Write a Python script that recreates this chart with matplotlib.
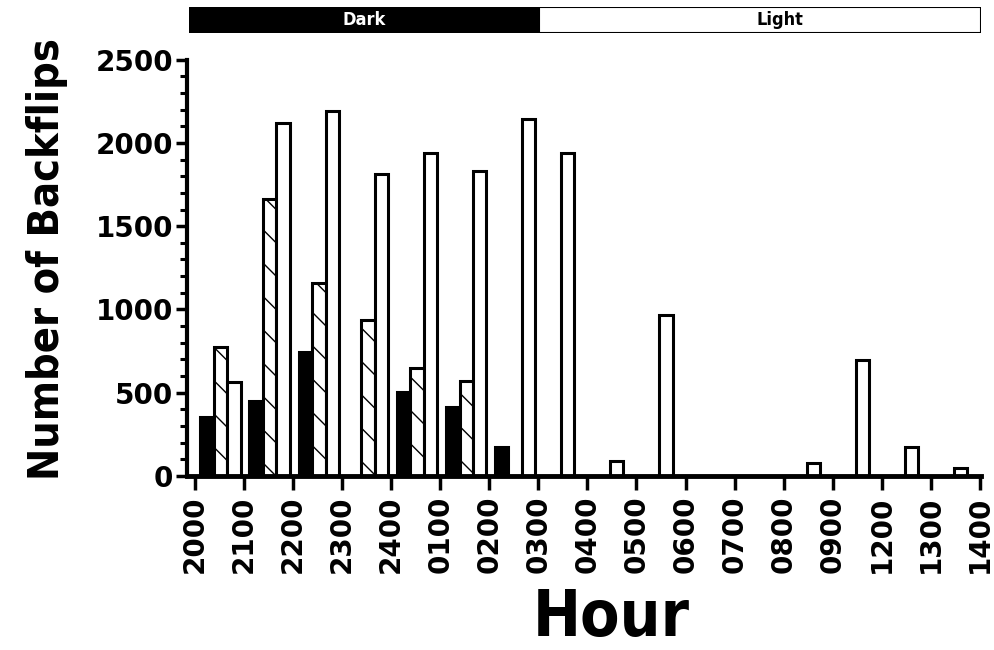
import matplotlib
matplotlib.use("Agg")
import matplotlib.pyplot as plt
from matplotlib.ticker import MultipleLocator

# data
hours = ['2000', '2100', '2200', '2300', '2400', '0100', '0200', '0300', '0400',
         '0500', '0600', '0700', '0800', '0900', '1200', '1300', '1400']
black = [355, 450, 745, 0, 505, 415, 175, 0, 0, 0, 0, 0, 0, 0, 0, 0]
hatched = [775, 1665, 1160, 937, 650, 571, 0, 0, 0, 0, 0, 0, 0, 0, 0, 0]
white = [565, 2120, 2190, 1815, 1940, 1833, 2145, 1940, 90, 968, 0, 0, 78, 697, 175, 48]
dark_end = 7  # dark period ends at 0300

plt.rcParams['font.family'] = 'DejaVu Sans'
plt.rcParams['hatch.linewidth'] = 1.0
cond = dict(family='DejaVu Sans', stretch='condensed', weight='bold')

fig = plt.figure(figsize=(9.94, 6.5), dpi=100)
ax = fig.add_axes([0.188, 0.268, 0.799, 0.640])

w = 0.27
lw = 2.2
for i in range(len(white)):
    if black[i] > 0:
        ax.bar(i + 0.25, black[i], w, color='black', edgecolor='black', linewidth=lw)
    if hatched[i] > 0:
        ax.bar(i + 0.53, hatched[i], w, color='white', edgecolor='black',
               linewidth=lw, hatch='\\')
    if white[i] > 0:
        # light-only hours have a single bar nearer the middle
        off = 0.8 if (black[i] > 0 or hatched[i] > 0) else 0.6
        ax.bar(i + off, white[i], w, color='white', edgecolor='black', linewidth=lw)

ax.set_xlim(-0.16, 16.02)
ax.set_ylim(0, 2500)
ax.set_xticks(range(len(hours)))
ax.set_xticklabels(hours, rotation=90, fontsize=20, fontweight='bold')
ax.yaxis.set_major_locator(MultipleLocator(500))
ax.yaxis.set_minor_locator(MultipleLocator(100))
for t in ax.get_yticklabels():
    t.set_fontsize(20)
    t.set_fontweight('bold')

ax.tick_params(axis='x', length=10, width=2.5, pad=4)
ax.tick_params(axis='y', which='major', length=8, width=2.5, pad=2)
ax.tick_params(axis='y', which='minor', length=5, width=2.2)
for s in ['top', 'right']:
    ax.spines[s].set_visible(False)
ax.spines['left'].set_linewidth(3)
ax.spines['bottom'].set_linewidth(3.5)

ax.set_ylabel('Number of Backflips', fontsize=31, **cond)
ax.yaxis.set_label_coords(-0.15, 0.52)
ax.set_xlabel('Hour', fontsize=46, **cond)
ax.xaxis.set_label_coords(0.534, -0.268)

# dark / light strip on top
strip = fig.add_axes([0.190, 0.949, 0.797, 0.040], sharex=ax)
strip.axvspan(-0.16, dark_end, color='black')
strip.axvspan(dark_end, 16.02, facecolor='white', edgecolor='black', linewidth=1.5)
strip.set_ylim(0, 1)
strip.text((-0.16 + dark_end) / 2, 0.5, 'Dark', color='white', ha='center',
           va='center', fontsize=13, **cond)
strip.text((dark_end + 16.02) / 2 + 0.4, 0.5, 'Light', color='black', ha='center',
           va='center', fontsize=13, **cond)
strip.axis('off')

fig.savefig('out.png', dpi=100)
